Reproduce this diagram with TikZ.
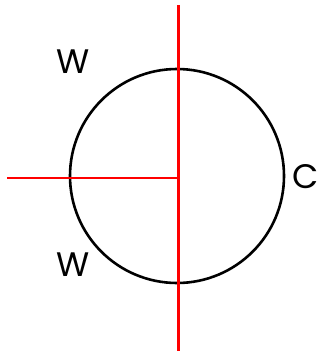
\documentclass[tikz,border=0pt]{standalone}
\usepackage{fontspec}
\setmainfont{Poppins}
\begin{document}
\begin{tikzpicture}[x=1pt,y=-1pt,
  redline/.style={draw=red,line width=2.3pt},
  circ/.style={draw=black,line width=2.6pt},
  lbl/.style={font=\fontsize{34}{38}\selectfont,inner sep=0pt}]
\useasboundingbox (0,0) rectangle (320,356);
\coordinate (top) at (178.5,5);
\coordinate (bot) at (178.5,351);
\coordinate (left) at (7,178.3);
\coordinate (mid) at (178.5,178.3);
\node[circ,circle,minimum size=214pt,inner sep=0pt] (c) at (177,176) {};
\draw[redline] (top) -- (bot);
\draw[redline] (left) -- (mid);
\node[lbl] (w1) at (73,61.5) {W};
\node[lbl] (w2) at (73,265) {W};
\node[lbl] (cc) at (306,177) {C};
\end{tikzpicture}
\end{document}
